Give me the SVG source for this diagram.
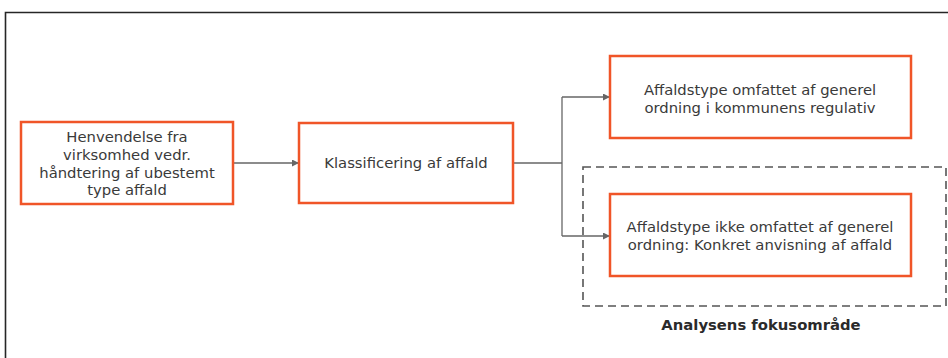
<svg xmlns="http://www.w3.org/2000/svg" width="948" height="358" viewBox="0 0 948 358">
<defs>
<style>
.box{fill:#fff;stroke:#F05528;stroke-width:2.5}
.t{font-family:"DejaVu Sans",Verdana,sans-serif;font-size:14.8px;fill:#3a3a3a;text-anchor:middle}
.c{fill:none;stroke:#666;stroke-width:1.3}
</style>
<marker id="ah" viewBox="0 0 10 10" refX="10" refY="5" markerWidth="7" markerHeight="7" markerUnits="userSpaceOnUse" orient="auto">
<path d="M0,0 L10,5 L0,10 z" fill="#666"/>
</marker>
</defs>
<rect x="0" y="0" width="948" height="358" fill="#fff"/>
<path d="M5.5,360 V12.5 H950" fill="none" stroke="#262626" stroke-width="1.6"/>
<g id="connectors">
<line class="c" x1="233" y1="163" x2="299" y2="163" marker-end="url(#ah)"/>
<path class="c" d="M513,163 H562"/>
<path class="c" d="M562,97 V236"/>
<line class="c" x1="562" y1="97" x2="610" y2="97" marker-end="url(#ah)"/>
<line class="c" x1="562" y1="236" x2="610" y2="236" marker-end="url(#ah)"/>
</g>
<g id="focus">
<rect x="583" y="167" width="363" height="139" fill="none" stroke="#555" stroke-width="1.6" stroke-dasharray="8,5"/>
<text x="761" y="330" style="font-family:'DejaVu Sans',Verdana,sans-serif;font-size:14.8px;font-weight:bold;fill:#2a2a2a;text-anchor:middle">Analysens fokusområde</text>
</g>
<g id="n1">
<rect class="box" x="21" y="122" width="212" height="82"/>
<text class="t" x="127" y="142">Henvendelse fra</text>
<text class="t" x="127" y="160">virksomhed vedr.</text>
<text class="t" x="127" y="178">håndtering af ubestemt</text>
<text class="t" x="127" y="195">type affald</text>
</g>
<g id="n2">
<rect class="box" x="299" y="123" width="214" height="80"/>
<text class="t" x="406" y="168">Klassificering af affald</text>
</g>
<g id="n3">
<rect class="box" x="610" y="56" width="301" height="82"/>
<text class="t" x="760" y="95">Affaldstype omfattet af generel</text>
<text class="t" x="760" y="113">ordning i kommunens regulativ</text>
</g>
<g id="n4">
<rect class="box" x="610" y="194" width="301" height="82"/>
<text class="t" x="760" y="232">Affaldstype ikke omfattet af generel</text>
<text class="t" x="760" y="250">ordning: Konkret anvisning af affald</text>
</g>
</svg>
